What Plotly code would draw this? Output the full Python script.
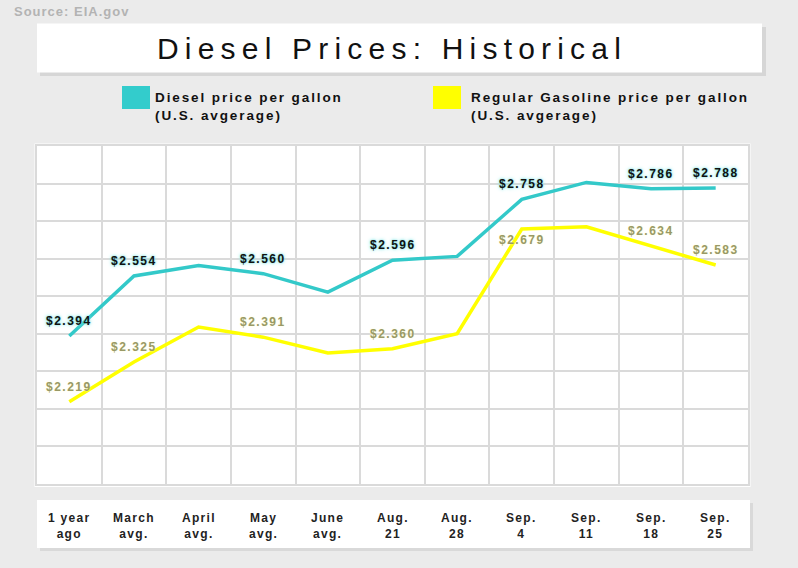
import plotly.graph_objects as go

# ---- data ----
categories = ["1 year<br>ago", "March<br>avg.", "April<br>avg.", "May<br>avg.", "June<br>avg.",
              "Aug.<br>21", "Aug.<br>28", "Sep.<br>4", "Sep.<br>11", "Sep.<br>18", "Sep.<br>25"]
diesel = [2.394, 2.554, 2.582, 2.560, 2.511, 2.596, 2.606, 2.758, 2.803, 2.786, 2.788]
gasoline = [2.219, 2.325, 2.418, 2.391, 2.349, 2.360, 2.400, 2.679, 2.685, 2.634, 2.583]
labeled_points = [0, 1, 3, 5, 7, 9, 10]
series_names = ["Diesel price per gallon<br>(U.S. avgerage)",
                "Regular Gasoline price per gallon<br>(U.S. avgerage)"]
title_text = "Diesel Prices: Historical"
source_text = "Source: EIA.gov"

# ---- styling ----
FONT = "Liberation Sans, Arial, sans-serif"
BG = "#ebebeb"
CYAN = "#33c9c9"
YELLOW = "#ffff00"
GRID = "#dadada"
GAS_LABEL = "#999966"

W, H = 798, 568
L, R, T, B = 37, 50, 146, 84
PW, PH = W - L - R, H - T - B


def fx(px):
    return (px - L) / PW


def fy(py):
    return (H - B - py) / PH


def ls(text, sp):
    return "<br>".join(f"<span style='letter-spacing:{sp}px'>{t}</span>" for t in text.split("<br>"))


x_idx = list(range(len(categories)))

fig = go.Figure()
fig.add_trace(go.Scatter(x=x_idx, y=diesel, mode="lines", name="Diesel",
                         line=dict(color=CYAN, width=3.5), hoverinfo="skip", showlegend=False))
fig.add_trace(go.Scatter(x=x_idx, y=gasoline, mode="lines", name="Regular Gasoline",
                         line=dict(color=YELLOW, width=3.5), hoverinfo="skip", showlegend=False))

annotations = []
# value labels
gas_shift = {7: -11}
for i in labeled_points:
    annotations.append(dict(x=i, y=diesel[i], xref="x", yref="y", yshift=15, showarrow=False,
                            text=ls(f"${diesel[i]:.3f}", 1.5), xanchor="center", yanchor="middle",
                            font=dict(family=FONT, size=12, color="#111111", weight="bold",
                                      shadow="0px 0px 2px #6fe0e0, 0px 0px 4px #8fe8e8")))
    annotations.append(dict(x=i, y=gasoline[i], xref="x", yref="y", yshift=gas_shift.get(i, 15),
                            showarrow=False, text=ls(f"${gasoline[i]:.3f}", 1.5),
                            xanchor="center", yanchor="middle",
                            font=dict(family=FONT, size=12, color=GAS_LABEL, weight="bold",
                                      shadow="0px 0px 2px #ffffcc")))
# category labels in bottom box
for i, c in enumerate(categories):
    annotations.append(dict(x=i, y=fy(526), xref="x", yref="paper", showarrow=False,
                            text=ls(c, 1.3), xanchor="center", yanchor="middle",
                            font=dict(family=FONT, size=12, color="#222222", weight="bold")))
# title
annotations.append(dict(x=fx(392), y=fy(48), xref="paper", yref="paper", showarrow=False,
                        text=ls(title_text, 6.2), xanchor="center", yanchor="middle",
                        font=dict(family=FONT, size=30, color="#111111")))
# source
annotations.append(dict(x=fx(12), y=fy(11), xref="paper", yref="paper", showarrow=False,
                        text=ls(source_text, 1), xanchor="left", yanchor="middle",
                        font=dict(family=FONT, size=13, color="#b3b3b3", weight="bold")))
# legend texts
legend_pos = [(122, 154), (433, 470)]
legend_cols = ["#33cccc", YELLOW]
for (sx, tx), name in zip(legend_pos, series_names):
    annotations.append(dict(x=fx(tx - 1), y=fy(106), xref="paper", yref="paper", showarrow=False,
                            text=ls(name, 1.9), xanchor="left", yanchor="middle", align="left",
                            font=dict(family=FONT, size=13.5, color="#111111", weight="bold")))

shapes = []
# title box with shadow
shapes.append(dict(type="rect", xref="paper", yref="paper", x0=fx(40), x1=fx(766), y0=fy(27), y1=fy(76),
                   fillcolor="#d6d6d6", line=dict(width=0), layer="below"))
shapes.append(dict(type="rect", xref="paper", yref="paper", x0=fx(37), x1=fx(762), y0=fy(23.5), y1=fy(72.5),
                   fillcolor="white", line=dict(width=0), layer="below"))
# bottom label box with shadow
shapes.append(dict(type="rect", xref="paper", yref="paper", x0=fx(40), x1=fx(753), y0=fy(503), y1=fy(551),
                   fillcolor="#d9d9d9", line=dict(width=0), layer="below"))
shapes.append(dict(type="rect", xref="paper", yref="paper", x0=fx(37), x1=fx(750), y0=fy(500), y1=fy(548),
                   fillcolor="white", line=dict(width=0), layer="below"))
# plot panel
shapes.append(dict(type="rect", xref="paper", yref="paper", x0=fx(34.5), x1=fx(750.5), y0=fy(143.5), y1=fy(487),
                   fillcolor="white", line=dict(width=0), layer="below"))
# legend squares
for (sx, tx), col in zip(legend_pos, legend_cols):
    shapes.append(dict(type="rect", xref="paper", yref="paper", x0=fx(sx), x1=fx(sx + 28),
                       y0=fy(86), y1=fy(109), fillcolor=col, line=dict(width=0)))

fig.update_layout(
    width=W, height=H,
    margin=dict(l=L, r=R, t=T, b=B),
    paper_bgcolor=BG, plot_bgcolor="white",
    showlegend=False,
    annotations=annotations,
    shapes=shapes,
    xaxis=dict(range=[-0.5, len(categories) - 0.5], tick0=-0.5, dtick=1, showticklabels=False,
               showgrid=True, gridcolor=GRID, gridwidth=1.5, zeroline=False,
               showline=True, mirror=True, linecolor=GRID, linewidth=1.5, fixedrange=True),
    yaxis=dict(range=[2.0, 2.9], tick0=2.0, dtick=0.1, showticklabels=False,
               showgrid=True, gridcolor=GRID, gridwidth=1.5, zeroline=False,
               showline=True, mirror=True, linecolor=GRID, linewidth=1.5, fixedrange=True),
)

fig.write_html("out.html", config={"displayModeBar": False},
               post_script="document.body.style.margin='0px';")
